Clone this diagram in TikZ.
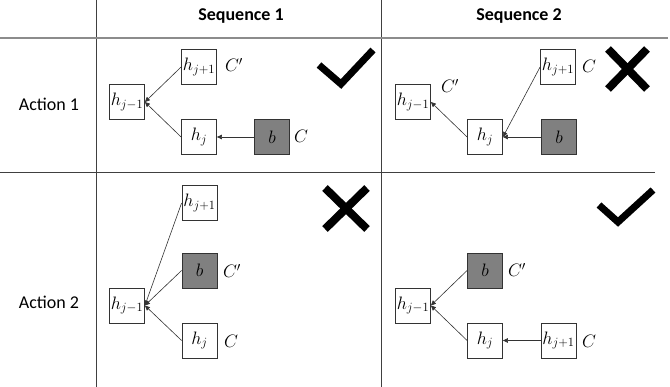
\RequirePackage{fix-cm}
\documentclass[tikz,border=0pt]{standalone}
\usepackage{fontspec}
\setsansfont{Carlito}
\usetikzlibrary{arrows.meta}
\begin{document}
\begin{tikzpicture}[x=1pt,y=-1pt,
  cell/.style={draw=black!80, line width=0.8, minimum size=35, inner sep=0, fill=white, font=\fontsize{18}{18}\selectfont},
  gcell/.style={cell, fill=black!50},
  lbl/.style={inner sep=0, font=\fontsize{18}{18}\selectfont},
  head/.style={font=\sffamily\bfseries\fontsize{18}{20}\selectfont},
  rowlbl/.style={font=\sffamily\fontsize{18}{20}\selectfont},
  arr/.style={-{Triangle[length=5,width=4.5]}, line width=0.6, draw=black!80},
  grid/.style={draw=black!75, line width=0.9},
  tick/.style={line width=7, line join=miter, line cap=butt},
  cross/.style={line width=8, line cap=butt}]
\useasboundingbox (0,0) rectangle (670,387);
% table
\draw[grid] (96,0) -- (96,387);
\draw[grid] (381,0) -- (381,387);
\draw[draw=black!45, line width=2] (0,38) -- (668,38);
\draw[grid] (0,172) -- (655,172);
\node[head] (s1) at (241,16) {Sequence 1};
\node[head] (s2) at (519,16) {Sequence 2};
\node[rowlbl] (a1) at (49,104) {Action 1};
\node[rowlbl] (a2) at (49,302) {Action 2};
% cell 1,1
\node[cell] (p1) at (127,102) {$h_{j-1}$};
\node[cell] (q1) at (199,67) {$h_{j+1}$};
\node[cell] (r1) at (199,137) {$h_j$};
\node[gcell] (b1) at (272,137) {$b$};
\node[lbl] (cp1) at (234,65) {$C'$};
\node[lbl] (c1) at (301,136) {$C$};
\draw[arr] (q1.west) -- (p1.east);
\draw[arr] (r1.west) -- (p1.east);
\draw[arr] (b1.west) -- (r1.east);
\draw[tick] (319,65) -- (341,84) -- (373,50);
% cell 1,2
\node[cell] (p2) at (413,102) {$h_{j-1}$};
\node[cell] (q2) at (558,67) {$h_{j+1}$};
\node[cell] (r2) at (485,137) {$h_j$};
\node[gcell] (b2) at (559,137) {$b$};
\node[lbl] (cp2) at (450,86) {$C'$};
\node[lbl] (c2) at (589,66) {$C$};
\draw[arr] (q2.west) -- (r2.east);
\draw[arr] (r2.west) -- (p2.east);
\draw[arr] (b2.west) -- (r2.east);
\draw[cross] (608,49) -- (647,89) (647,49) -- (608,89);
% cell 2,1
\node[cell] (p3) at (127,305.5) {$h_{j-1}$};
\node[cell] (q3) at (199.5,203) {$h_{j+1}$};
\node[gcell] (b3) at (199.5,270.5) {$b$};
\node[cell] (r3) at (199.5,340.5) {$h_j$};
\node[lbl] (cp3) at (232,271) {$C'$};
\node[lbl] (c3) at (231,341) {$C$};
\draw[arr] (q3.west) -- (p3.east);
\draw[arr] (b3.west) -- (p3.east);
\draw[arr] (r3.west) -- (p3.east);
\draw[cross] (325,188) -- (367,229) (367,188) -- (325,229);
% cell 2,2
\node[cell] (p4) at (413,305.5) {$h_{j-1}$};
\node[gcell] (b4) at (485,270.5) {$b$};
\node[cell] (r4) at (485,340.5) {$h_j$};
\node[cell] (q4) at (558.5,340.5) {$h_{j+1}$};
\node[lbl] (cp4) at (517,270) {$C'$};
\node[lbl] (c4) at (589,341) {$C$};
\draw[arr] (b4.west) -- (p4.east);
\draw[arr] (r4.west) -- (p4.east);
\draw[arr] (q4.west) -- (r4.east);
\draw[tick] (599,205) -- (618,222) -- (653,190);
\end{tikzpicture}
\end{document}
